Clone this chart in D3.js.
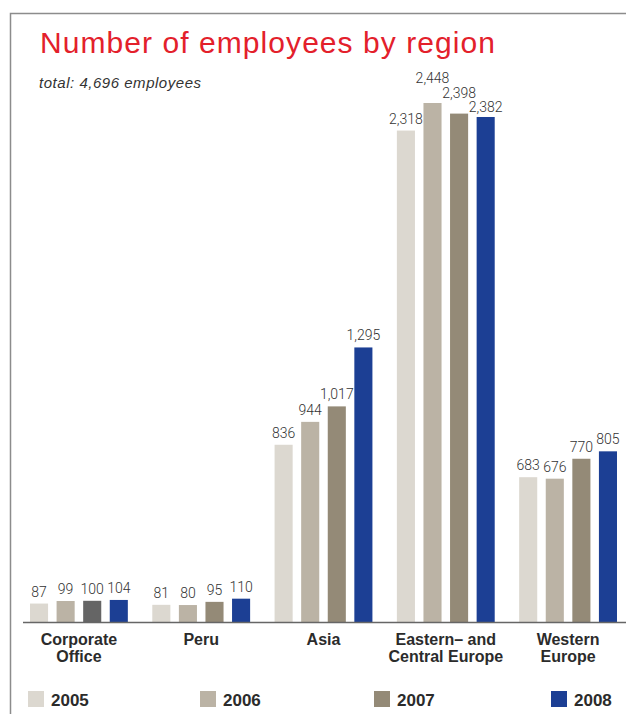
<!DOCTYPE html>
<html>
<head>
<meta charset="utf-8">
<script src="https://cdn.jsdelivr.net/npm/d3@7"></script>
<style>
  body { margin: 0; background: #fff; }
  text { font-family: "Liberation Sans", Arial, sans-serif; }
</style>
</head>
<body>
<div id="chart"></div>
<script>
// data
const regions = ["Corporate Office", "Peru", "Asia", "Eastern\u2013 and Central Europe", "Western Europe"];
const regionLines = [["Corporate", "Office"], ["Peru"], ["Asia"], ["Eastern\u2013 and", "Central Europe"], ["Western", "Europe"]];
const years = ["2005", "2006", "2007", "2008"];
const v2005 = [87, 81, 836, 2318, 683];
const v2006 = [99, 80, 944, 2448, 676];
const v2007 = [100, 95, 1017, 2398, 770];
const v2008 = [104, 110, 1295, 2382, 805];

const width = 626, height = 714;
const colors = {"2005": "#dcd8d0", "2006": "#bbb3a5", "2007": "#948a77", "2008": "#1c3f94"};

const seriesByYear = {"2005": v2005, "2006": v2006, "2007": v2007, "2008": v2008};
const rows = [];
regions.forEach((r, i) => {
    years.forEach(y => rows.push({region: r, year: y, value: seriesByYear[y][i]}));
});

let svg = d3.select("#chart").append("svg")
    .attr("width", width)
    .attr("height", height);

// frame
svg.append("path")
    .attr("d", `M10.5,${height} V13.5 H${width}`)
    .attr("fill", "none")
    .attr("stroke", "#8c8c8c")
    .attr("stroke-width", 1.5);

svg.append("text")
    .attr("x", 40).attr("y", 53)
    .attr("fill", "#e3202b")
    .style("font-size", "30px")
    .attr("textLength", 455)
    .attr("lengthAdjust", "spacing")
    .text("Number of employees by region");

svg.append("text")
    .attr("x", 39).attr("y", 88)
    .attr("fill", "#333")
    .style("font-size", "15px")
    .style("font-style", "italic")
    .attr("textLength", 162)
    .attr("lengthAdjust", "spacing")
    .text("total: 4,696 employees");

let x0 = d3.scaleBand()
    .domain(regions)
    .range([30, 617])
    .paddingInner(0.2);

let x1 = d3.scaleBand()
    .domain(years)
    .range([0, x0.bandwidth()])
    .paddingInner(0.32);

let y = d3.scaleLinear()
    .domain([0, 2448])
    .range([622, 103]);

// bars
svg.append("g").selectAll("rect")
    .data(rows)
    .enter()
    .append("rect")
    .attr("x", d => x0(d.region) + x1(d.year))
    .attr("y", d => y(d.value))
    .attr("width", x1.bandwidth())
    .attr("height", d => y(0) - y(d.value))
    // corporate office 2007 is drawn in a darker grey in the original
    .attr("fill", d => (d.region === "Corporate Office" && d.year === "2007") ? "#656565" : colors[d.year]);

// labels in the tall group are staggered so they don't collide
function labelGap(d) {
    if (d.region === regions[3]) {
        if (d.year === "2006") return 20;
        if (d.year === "2007") return 16;
        if (d.year === "2008") return 5;
    }
    return 7;
}

svg.append("g").selectAll("text")
    .data(rows)
    .enter()
    .append("text")
    .attr("x", d => x0(d.region) + x1(d.year) + x1.bandwidth() / 2)
    .attr("y", d => y(d.value) - labelGap(d))
    .attr("text-anchor", "middle")
    .attr("fill", "#333")
    .style("font-family", "Roboto, sans-serif")
    .style("font-weight", 300)
    .style("font-size", "14px")
    .text(d => d3.format(",")(d.value));

// baseline
svg.append("line")
    .attr("x1", 23).attr("x2", width)
    .attr("y1", y(0) + 0.5).attr("y2", y(0) + 0.5)
    .attr("stroke", "#666")
    .attr("stroke-width", 1.5);

// category labels
let cats = svg.append("g").selectAll("text")
    .data(regions)
    .enter()
    .append("text")
    .attr("x", d => x0(d) + x0.bandwidth() / 2)
    .attr("y", 645)
    .attr("text-anchor", "middle")
    .attr("fill", "#2b2b2b")
    .style("font-size", "16px")
    .style("font-weight", "bold");
cats.each(function(d, i) {
    regionLines[i].forEach((line, j) => {
        d3.select(this).append("tspan")
            .attr("x", x0(d) + x0.bandwidth() / 2)
            .attr("dy", j === 0 ? 0 : 17)
            .text(line);
    });
});

// legend
const legendX = [28, 200, 374, 551];
let legend = svg.append("g").selectAll("g")
    .data(years)
    .enter()
    .append("g")
    .attr("transform", (d, i) => `translate(${legendX[i]}, 691)`);
legend.append("rect")
    .attr("width", 16).attr("height", 16)
    .attr("fill", d => colors[d]);
legend.append("text")
    .attr("x", 23).attr("y", 14.5)
    .attr("fill", "#2b2b2b")
    .style("font-size", "17px")
    .style("font-weight", "bold")
    .text(d => d);
</script>
</body>
</html>
